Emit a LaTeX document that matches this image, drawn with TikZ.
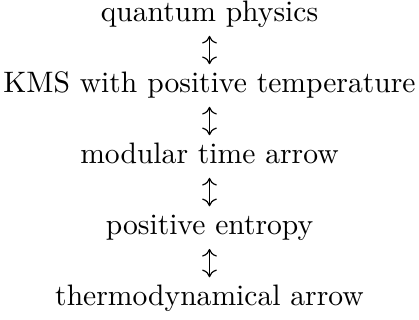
\documentclass[tikz,border=0pt]{standalone}
\usetikzlibrary{arrows.meta}
\tikzset{
  line/.style={anchor=base, text height=7pt, text depth=2pt, inner xsep=0pt, inner ysep=2.5pt},
  equiv/.style={{Computer Modern Rightarrow[length=2.6pt,width=5pt]}-{Computer Modern Rightarrow[length=2.6pt,width=5pt]}, line width=0.4pt}
}
\begin{document}
\begin{tikzpicture}
  \useasboundingbox (-70.8pt,7.4pt) rectangle (70.8pt,-100.6pt);
  \node[line] (qp) at (0,0) {quantum physics};
  \node[line] (kms) at (0,-24pt) {KMS with positive temperature};
  \node[line] (mod) at (0,-48pt) {modular time arrow};
  \node[line] (ent) at (0,-72pt) {positive entropy};
  \node[line] (thd) at (0,-96pt) {thermodynamical arrow};
  \draw[equiv] (qp) -- (kms);
  \draw[equiv] (kms) -- (mod);
  \draw[equiv] (mod) -- (ent);
  \draw[equiv] (ent) -- (thd);
\end{tikzpicture}
\end{document}
